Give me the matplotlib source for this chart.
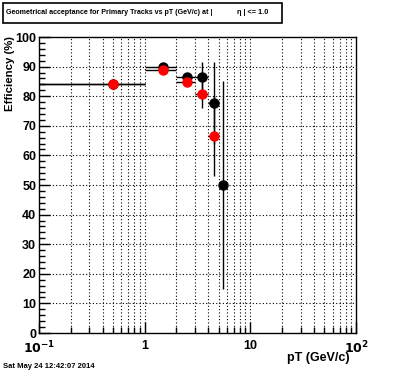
import matplotlib
matplotlib.use('Agg')
import matplotlib.pyplot as plt
from matplotlib.patches import Rectangle
from matplotlib.ticker import MultipleLocator, FixedLocator, NullFormatter

plt.rcParams['font.family'] = ['Liberation Sans', 'DejaVu Sans']

# pT bins (GeV/c)
pt_all = [0.5, 1.5, 2.5, 3.5, 4.5, 5.5]
pt_err_all = [0.5, 0.5, 0.5, 0.5, 0.5, 0.5]
eff_all = [84.2, 89.8, 86.4, 86.6, 77.8, 50.0]
eff_all_err = [0.3, 0.6, 1.0, 5.0, 13.9, 35.0]

pt_sel = [0.5, 1.5, 2.5, 3.5, 4.5]
pt_err_sel = [0.5, 0.5, 0.5, 0.5, 0.5]
eff_sel = [84.1, 88.8, 84.9, 80.9, 66.4]
eff_sel_err = [0.3, 0.7, 1.5, 5.0, 13.5]

xticks = [0.1, 1, 10, 100]
xticklabels = ['$\\mathbf{10^{-1}}$', '1', '10', '$\\mathbf{10^{2}}$']

fig = plt.figure(figsize=(3.96, 3.72), dpi=100)
ax = fig.add_axes([39/396, 1-333/372, 317/396, 296/372])

ax.set_xscale('log')
ax.set_xlim(0.1, 100)
ax.set_ylim(0, 100)

# grid: y majors, x majors + minors
dot = (0, (1, 2))
minors = [m * d for d in (0.1, 1, 10) for m in range(1, 10)][1:]
for xv in minors:
    ax.axvline(xv, color='black', lw=0.8, ls=dot, zorder=1)
for yv in range(10, 100, 10):
    ax.axhline(yv, color='black', lw=0.8, ls=dot, zorder=1)

ax.errorbar(pt_all, eff_all, xerr=pt_err_all, yerr=eff_all_err, fmt='o',
            color='black', ms=6.5, lw=1.0, capsize=0, zorder=3)
ax.errorbar(pt_sel, eff_sel, xerr=pt_err_sel, yerr=eff_sel_err, fmt='o',
            color='red', mec='red', ecolor='black', ms=6.5, lw=1.0, capsize=0, zorder=4)

ax.xaxis.set_major_locator(FixedLocator(xticks))
ax.set_xticklabels(xticklabels)
ax.xaxis.set_minor_locator(FixedLocator(minors))
ax.xaxis.set_minor_formatter(NullFormatter())
ax.yaxis.set_major_locator(MultipleLocator(10))
ax.yaxis.set_minor_locator(MultipleLocator(2))

ax.tick_params(which='both', direction='in', top=False, right=False, width=1)
ax.tick_params(which='major', length=8, labelsize=9)
ax.tick_params(which='minor', length=4)
ax.tick_params(axis='x', pad=5)
ax.tick_params(axis='y', pad=2)
for lab in ax.get_xticklabels() + ax.get_yticklabels():
    lab.set_fontweight('bold')
for sp in ax.spines.values():
    sp.set_linewidth(1.0)

fig.text(350/396, 1-358/372, 'pT (GeV/c)', ha='right', va='center',
         fontsize=9, fontweight='bold')
fig.text(10/396, 1-36/372, 'Efficiency (%)', ha='center', va='top',
         rotation=90, fontsize=8.2, fontweight='bold')

# title box
fig.patches.append(Rectangle((3/396, 1-23/372), 279/396, 20/372,
                             transform=fig.transFigure, fill=False,
                             edgecolor='black', lw=1.2))
fig.text(6/396, 1-13/372, 'Geometrical acceptance for Primary Tracks vs pT (GeV/c) at |',
         ha='left', va='center', fontsize=5.1, fontweight='bold')
fig.text(237/396, 1-13/372, '\u03b7 | <= 1.0', ha='left', va='center',
         fontsize=5.3, fontweight='bold')

fig.text(3/396, 1-366/372, 'Sat May 24 12:42:07 2014', ha='left', va='center',
         fontsize=5.5, fontweight='bold')

fig.savefig('out.png', dpi=100)
